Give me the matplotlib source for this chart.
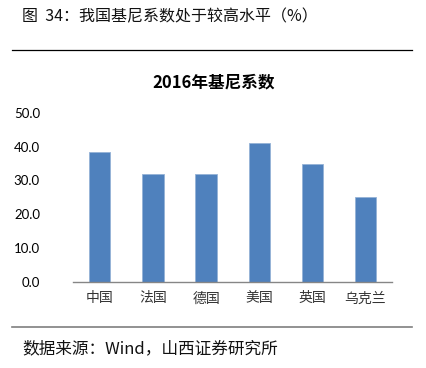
import matplotlib
matplotlib.use('Agg')
import matplotlib.pyplot as plt
import numpy as np

plt.rcParams['font.family'] = ['Noto Sans CJK SC', 'DejaVu Sans']

# 数据
countries = ['中国', '法国', '德国', '美国', '英国', '乌克兰']
gini_2016 = [38.5, 31.9, 31.9, 41.2, 34.9, 25.0]
yticks = [0, 10, 20, 30, 40, 50]

fig = plt.figure(figsize=(4.27, 3.68), dpi=100)

# 标题与分隔线
fig.text(22 / 427, 1 - 17 / 368, '图  34：我国基尼系数处于较高水平（%）', fontsize=11.5,
         ha='left', va='center', color='#111111')
fig.add_artist(plt.Line2D([12 / 427, 412 / 427], [1 - 50 / 368, 1 - 50 / 368],
                          color='black', linewidth=0.9))
fig.add_artist(plt.Line2D([12 / 427, 412 / 427], [1 - 327 / 368, 1 - 327 / 368],
                          color='#7f7f7f', linewidth=1.2))
fig.text(22 / 427, 1 - 349 / 368, '数据来源：Wind，山西证券研究所', fontsize=12,
         ha='left', va='center', color='#111111')

ax = fig.add_axes([73.3 / 427, 1 - 281.7 / 368, (392 - 73.3) / 427, (281.7 - 112.9) / 368])
x = np.arange(len(countries))
ax.bar(x, gini_2016, width=0.4, color='#4F81BD', edgecolor='#95B3D7', linewidth=0.6)
ax.set_xlim(-0.5, len(countries) - 0.5)
ax.set_ylim(0, 50)
ax.set_yticks(yticks)
ax.set_yticklabels([f'{v:.1f}' for v in yticks], fontsize=9.5, family=['Lato', 'DejaVu Sans'])
ax.set_xticks(x)
ax.set_xticklabels(countries, fontsize=10, color='#333333')
for s in ['top', 'right', 'left']:
    ax.spines[s].set_visible(False)
ax.spines['bottom'].set_color('#868686')
ax.spines['bottom'].set_linewidth(1)
ax.tick_params(axis='both', length=0)
ax.tick_params(axis='y', pad=24)
ax.tick_params(axis='x', pad=7)

fig.text(214 / 427, 1 - 82 / 368, '2016年基尼系数', fontsize=12, fontweight='bold',
         ha='center', va='center')

fig.savefig('out.png', dpi=100)
